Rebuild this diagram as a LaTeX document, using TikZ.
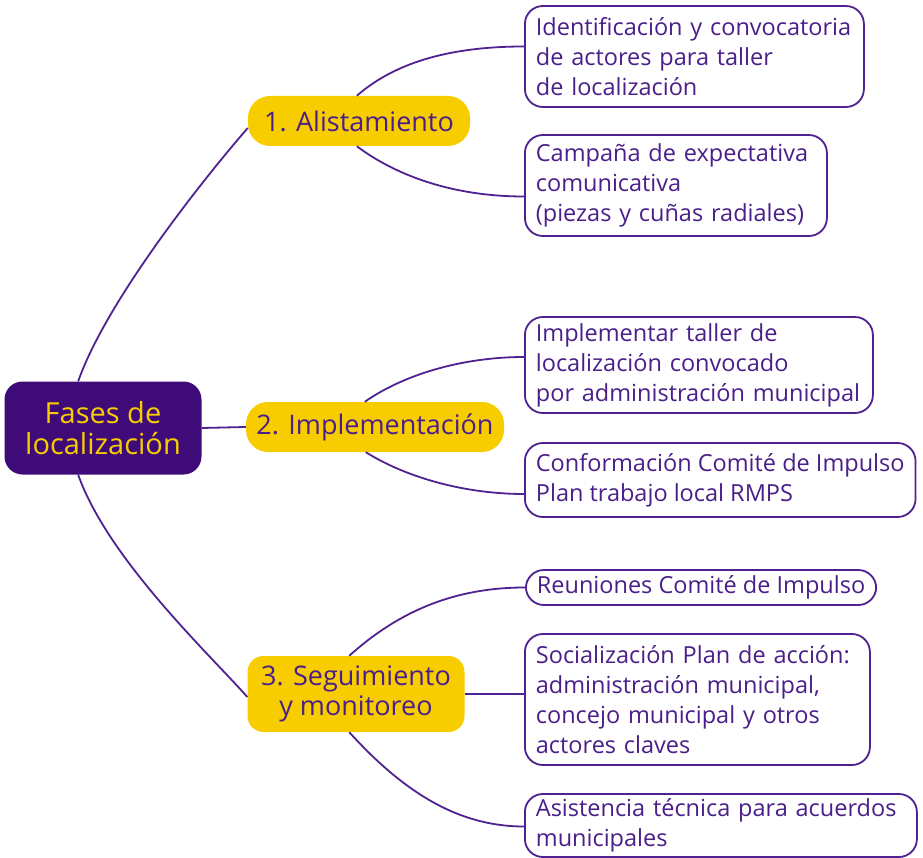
\documentclass[tikz,border=0pt]{standalone}
\usepackage{fontspec}
\setmainfont{Open Sans}
\usetikzlibrary{positioning}
\definecolor{morado}{HTML}{3F0B78}
\definecolor{amarillo}{HTML}{F8CD00}
\definecolor{linea}{HTML}{4E2290}
\definecolor{texto}{HTML}{4A1F8A}
\tikzset{
    raiz/.style={fill=morado, text=amarillo, rounded corners=18pt, align=center, minimum width=197pt, minimum height=93pt, font=\fontsize{29}{31}\selectfont},
    fase/.style={fill=amarillo, text=texto, rounded corners=22pt, align=center, minimum height=50pt, font=\fontsize{27}{30}\selectfont},
    hoja/.style={draw=linea, line width=1.8pt, fill=white, text=texto, rounded corners=18pt, align=left, anchor=west, inner xsep=11pt, inner ysep=3pt, font=\fontsize{23.5}{30}\selectfont},
    rama/.style={draw=linea, line width=1.8pt}}

\begin{document}
\begin{tikzpicture}[x=1pt,y=-1pt]
\useasboundingbox (0,0) rectangle (923,858);

% centro y fases
\node[raiz] (fases) at (103,428) {Fases de\\localización};
\node[fase, minimum width=222pt] (alist) at (359,121) {1. Alistamiento};
\node[fase, minimum width=258pt] (impl) at (375,427) {2. Implementación};
\node[fase, minimum width=217pt, minimum height=76pt, rounded corners=16pt] (segui) at (356,694) {3. Seguimiento\\y monitoreo};

% hojas
\node[hoja, text width=317pt, minimum height=101pt] (h1) at (524,56.5) {Identificación y convocatoria\\de actores para taller\\de localización};
\node[hoja, text width=280pt, minimum height=101pt] (h2) at (524,185.5) {Campaña de expectativa\\comunicativa\\(piezas y cuñas radiales)};
\node[hoja, text width=326pt, minimum height=96pt] (h3) at (524,365) {Implementar taller de\\localización convocado\\por administración municipal};
\node[hoja, minimum height=74pt] (h4) at (524,480) {Conformación Comité de Impulso\\Plan trabajo local RMPS};
\node[hoja, minimum height=35pt] (h5) at (525,587.5) {Reuniones Comité de Impulso};
\node[hoja, text width=323pt, minimum height=131pt] (h6) at (524,699.5) {Socialización Plan de acción:\\administración municipal,\\concejo municipal y otros\\actores claves};
\node[hoja, text width=370pt, minimum height=63pt] (h7) at (524,825.5) {Asistencia técnica para acuerdos\\municipales};

% ramas principales
\draw[rama] (fases.118) .. controls +(30,-85) and +(-35,40) .. ([yshift=-7pt]alist.west);
\draw[rama] (fases.east) -- (impl.west);
\draw[rama] (fases.242) .. controls +(30,85) and +(-35,-40) .. ([yshift=-3pt]segui.west);

% ramas secundarias
\draw[rama] (alist.95) .. controls +(40,-35) and +(-70,0) .. ([yshift=10pt]h1.west);
\draw[rama] (alist.265) .. controls +(40,30) and +(-70,0) .. ([yshift=-11pt]h2.west);
\draw[rama] (impl.112) .. controls +(40,-28) and +(-60,0) .. ([yshift=8pt]h3.west);
\draw[rama] (impl.250) .. controls +(40,25) and +(-60,0) .. ([yshift=-14pt]h4.west);
\draw[rama] (segui.100) .. controls +(50,-45) and +(-70,0) .. (h5.west);
\draw[rama] (segui.east) -- (segui.east -| h6.west);
\draw[rama] (segui.260) .. controls +(50,55) and +(-70,0) .. ([yshift=-1pt]h7.west);
\end{tikzpicture}
\end{document}
